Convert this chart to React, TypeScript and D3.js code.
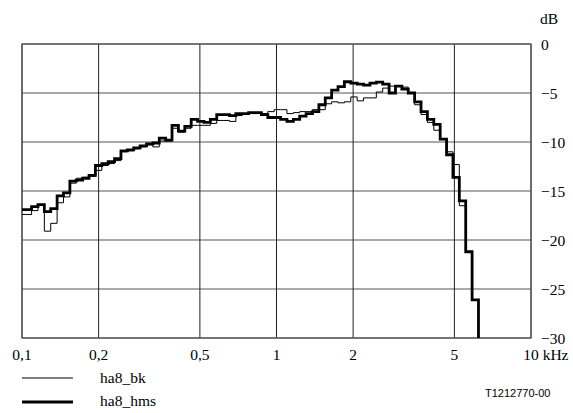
import React from "react";
import * as d3 from "d3";

// 1/12-octave band centre frequencies (kHz)
const bandFreqs = [
  0.1, 0.10595, 0.11225, 0.11892, 0.12599, 0.13348, 0.14142, 0.14983, 0.15874, 0.16818, 0.17818, 0.18877,
  0.2, 0.2119, 0.2245, 0.2378, 0.252, 0.267, 0.2828, 0.2997, 0.3175, 0.3364, 0.3564, 0.3775,
  0.4, 0.4238, 0.449, 0.4757, 0.504, 0.5339, 0.5657, 0.5993, 0.635, 0.6727, 0.7127, 0.7551,
  0.8, 0.8476, 0.898, 0.9514, 1.0079, 1.0679, 1.1314, 1.1986, 1.2699, 1.3454, 1.4254, 1.5102,
  1.6, 1.6951, 1.7959, 1.9027, 2.0159, 2.1357, 2.2627, 2.3973, 2.5398, 2.6909, 2.8509, 3.0204,
  3.2, 3.3903, 3.5919, 3.8055, 4.0317, 4.2715, 4.5255, 4.7946, 5.0797, 5.3817, 5.7018, 6.0409,
  6.4,
];

// ha8_bk (thin line), dB
const bkValues = [
  -17.4, -17.4, -17.0, -16.4, -19.1, -18.3, -16.2, -15.6, -14.2, -13.7, -13.6, -13.5,
  -12.9, -12.4, -12.2, -11.9, -11.0, -10.9, -10.7, -10.5, -10.3, -10.5, -9.9, -9.9,
  -8.6, -9.0, -8.6, -8.3, -8.3, -8.3, -8.1, -7.8, -7.8, -7.9, -7.3, -7.2,
  -7.1, -7.1, -7.1, -6.9, -6.7, -6.7, -7.1, -7.0, -6.9, -6.9, -6.7, -6.7,
  -6.1, -5.9, -6.0, -5.9, -5.4, -5.8, -5.5, -5.5, -4.9, -4.5, -4.3, -4.3,
  -4.4, -5.0, -6.2, -7.2, -8.0, -8.8, -9.7, -11.0, -12.3, -16.5, -21.2, -26.1,
  -40,
];

// ha8_hms (thick line), dB
const hmsValues = [
  -16.9, -16.9, -16.6, -16.4, -17.1, -16.8, -15.5, -15.2, -14.0, -13.9, -13.7, -13.4,
  -12.4, -12.2, -12.0, -11.7, -10.9, -10.8, -10.6, -10.4, -10.2, -10.1, -9.6, -9.8,
  -8.3, -8.9, -8.4, -7.7, -7.9, -8.0, -7.7, -7.2, -7.2, -7.3, -7.1, -7.1,
  -7.0, -7.0, -7.2, -7.5, -7.5, -7.7, -7.9, -7.7, -7.35, -7.1, -6.9, -6.2,
  -5.5, -4.7, -4.35, -3.85, -4.0, -4.1, -4.2, -4.0, -3.9, -4.1, -5.0, -4.3,
  -4.6, -5.0, -5.9, -6.9, -7.7, -8.2, -9.7, -11.3, -13.6, -16.0, -21.2, -26.1,
  -40,
];

const xTicks = [0.1, 0.2, 0.5, 1, 2, 5, 10];
const xTickLabels = ["0,1", "0,2", "0,5", "1", "2", "5", "10"];
const xUnit = " kHz";
const yTicks = [0, -5, -10, -15, -20, -25, -30];
const yTickLabels = ["0", "\u22125", "\u221210", "\u221215", "\u221220", "\u221225", "\u221230"];
const yUnit = "dB";
const seriesNames = ["ha8_bk", "ha8_hms"];
const figureId = "T1212770-00";

const W = 573;
const H = 413;
const plot = { left: 22, right: 531, top: 44, bottom: 338 };

export default function App() {
  const x = d3.scaleLog().domain([0.1, 10]).range([plot.left, plot.right]);
  const y = d3.scaleLinear().domain([0, -30]).range([plot.top, plot.bottom]);

  const mkLine = (vals: number[]) =>
    d3
      .line<number>()
      .x((_, i) => x(bandFreqs[i]))
      .y((v) => y(v))
      .curve(d3.curveStep)(vals) || "";

  const serif = "'Liberation Serif', 'Times New Roman', serif";
  const fs = 15.5;

  return (
    <svg
      width={W}
      height={H}
      style={{ position: "absolute", left: 0, top: 0, background: "#fff" }}
    >
      <defs>
        <clipPath id="plotclip">
          <rect x={plot.left} y={plot.top} width={plot.right - plot.left} height={plot.bottom - plot.top} />
        </clipPath>
      </defs>
      <rect x={0} y={0} width={W} height={H} fill="#fff" />
      {/* horizontal grid */}
      {yTicks.map((t) => (
        <line key={"h" + t} x1={plot.left} x2={plot.right} y1={y(t)} y2={y(t)} stroke="#555" strokeWidth={1.2} />
      ))}
      {/* vertical grid */}
      {xTicks.map((t) => (
        <line key={"v" + t} x1={x(t)} x2={x(t)} y1={plot.top} y2={plot.bottom} stroke="#222" strokeWidth={1} />
      ))}
      <rect
        x={plot.left}
        y={plot.top}
        width={plot.right - plot.left}
        height={plot.bottom - plot.top}
        fill="none"
        stroke="#555"
        strokeWidth={1.2}
      />
      <g clipPath="url(#plotclip)">
        <path d={mkLine(bkValues)} fill="none" stroke="#000" strokeWidth={1} />
        <path d={mkLine(hmsValues)} fill="none" stroke="#000" strokeWidth={2.8} />
      </g>
      {/* y labels */}
      <text x={540} y={18} dominantBaseline="central" fontFamily={serif} fontSize={fs}>
        {yUnit}
      </text>
      {yTicks.map((t, i) => (
        <text key={"yl" + t} x={541} y={y(t)} dominantBaseline="central" fontFamily={serif} fontSize={fs}>
          {yTickLabels[i]}
        </text>
      ))}
      {/* x labels */}
      {xTicks.map((t, i) =>
        i === xTicks.length - 1 ? (
          <text key={"xl" + t} x={x(t)} y={360} dx="-0.5em" textAnchor="start" fontFamily={serif} fontSize={fs}>
            {xTickLabels[i] + xUnit}
          </text>
        ) : (
          <text key={"xl" + t} x={x(t)} y={360} textAnchor="middle" fontFamily={serif} fontSize={fs}>
            {xTickLabels[i]}
          </text>
        )
      )}
      {/* legend */}
      <line x1={22} x2={73} y1={378} y2={378} stroke="#000" strokeWidth={1} />
      <text x={100} y={383} fontFamily={serif} fontSize={fs}>
        {seriesNames[0]}
      </text>
      <line x1={22} x2={73} y1={402} y2={402} stroke="#000" strokeWidth={3} />
      <text x={100} y={406} fontFamily={serif} fontSize={fs}>
        {seriesNames[1]}
      </text>
      <text x={485} y={397} fontFamily="'Liberation Sans', Arial, sans-serif" fontSize={11}>
        {figureId}
      </text>
    </svg>
  );
}
